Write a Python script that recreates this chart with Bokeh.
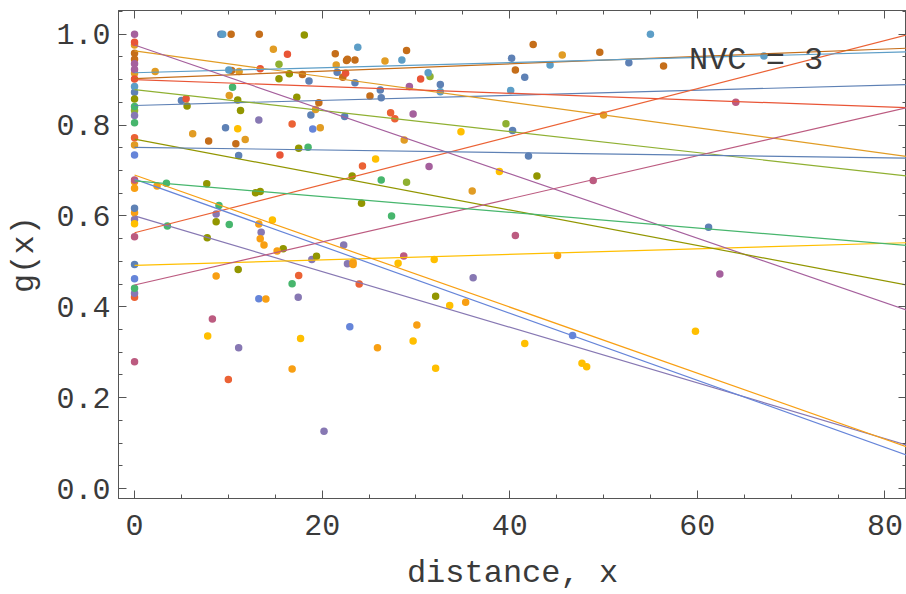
from bokeh.plotting import figure
from bokeh.models import (Range1d, LinearAxis, SingleIntervalTicker, PrintfTickFormatter, Label,
                          CustomJSTickFormatter)
from bokeh.embed import file_html
from bokeh.resources import INLINE

# ---------------- data ----------------
series_names = ["blue1", "orange", "yellowgreen", "redorange", "purple", "brown", "lightblue",
                "yellow", "purplepink", "olive", "red", "blue12", "orange13", "pink", "green", "blue2"]
series_colors = ["#5E81B5", "#E19C24", "#8FB032", "#EB6235", "#8778B3", "#C56E1A", "#5D9EC7",
                 "#FFBF00", "#A5609D", "#929600", "#E95536", "#6685D9", "#F89F13", "#BC5B80",
                 "#47B66D", "#5E81B5"]

blue1_x = [0, 9.2, 21.6, 18.6, 23.5, 26.2, 26.3, 32.6, 40.2, 41.6, 52.7, 5.0, 18.8, 22.4]
blue1_y = [0.872, 1.0, 0.916, 0.897, 0.893, 0.877, 0.860, 0.889, 0.947, 0.905, 0.937, 0.854, 0.822, 0.819]
orange_x = [0, 0, 0, 14.8, 2.2, 11.15, 10.1, 6.2, 11.8, 21.5, 26.7, 19.3, 19.8, 28.75, 36.0, 45.6, 50.0]
orange_y = [0.976, 0.914, 0.756, 0.967, 0.918, 0.918, 0.865, 0.781, 0.768, 0.932, 0.941, 0.834, 0.794, 0.767, 0.655, 0.954, 0.822]
yellowgreen_x = [0, 15.4, 31.5, 29.0, 39.6]
yellowgreen_y = [0.832, 0.934, 0.907, 0.674, 0.803]
redorange_x = [0, 0, 10.0, 17.5, 23.95, 24.3, 27.3, 27.75, 16.8]
redorange_y = [0.772, 0.421, 0.240, 0.469, 0.450, 0.710, 0.827, 0.814, 0.802]
purple_x = [0, 0, 0, 13.25, 8.7, 13.5, 11.1, 17.45, 18.9, 22.3, 22.7, 36.1, 20.2]
purple_y = [0.821, 0.592, 0.430, 0.811, 0.604, 0.564, 0.310, 0.421, 0.504, 0.536, 0.495, 0.464, 0.126]
brown_x = [0, 0, 10.3, 13.3, 10.35, 7.9, 10.8, 21.4, 22.6, 22.7, 23.5, 29.0, 22.2, 17.9, 25.1, 19.65, 40.6, 42.5, 49.6, 56.4]
brown_y = [0.958, 0.945, 1.0, 1.0, 0.920, 0.765, 0.759, 0.957, 0.942, 0.945, 0.943, 0.964, 0.905, 0.911, 0.864, 0.849, 0.921, 0.977, 0.960, 0.930]
lightblue_x = [0, 9.4, 10.05, 23.8, 28.5, 31.3, 32.6, 40.1, 44.3, 55.0, 67.1]
lightblue_y = [0.885, 1.0, 0.921, 0.971, 0.943, 0.915, 0.873, 0.876, 0.932, 1.0, 0.952]
yellow_x = [0, 7.8, 11.0, 14.7, 17.7, 34.8, 25.7, 38.9, 28.1, 31.95, 33.6, 29.7, 32.1, 41.6, 47.7, 48.2, 59.8]
yellow_y = [0.583, 0.336, 0.792, 0.591, 0.330, 0.785, 0.725, 0.698, 0.496, 0.504, 0.403, 0.325, 0.265, 0.319, 0.276, 0.268, 0.346]
purplepink_x = [0, 0, 0, 29.3, 29.7, 31.4, 62.4]
purplepink_y = [1.0, 0.935, 0.922, 0.885, 0.824, 0.709, 0.472]
olive_x = [0, 5.6, 15.4, 16.5, 17.3, 11.0, 11.3, 7.7, 12.9, 13.4, 17.5, 18.1, 23.2, 42.9, 8.7, 7.75, 11.05, 15.85, 19.4, 24.2, 32.1]
olive_y = [0.857, 0.842, 0.902, 0.913, 0.861, 0.855, 0.832, 0.671, 0.651, 0.654, 0.749, 0.998, 0.688, 0.688, 0.587, 0.552, 0.482, 0.528, 0.511, 0.628, 0.423]
red_x = [0, 0, 5.5, 13.4, 16.3, 22.5, 30.5, 15.5]
red_y = [0.982, 0.901, 0.858, 0.924, 0.956, 0.914, 0.901, 0.734]
blue12_x = [0, 0, 13.25, 19.0, 22.95, 46.7]
blue12_y = [0.734, 0.462, 0.418, 0.791, 0.356, 0.337]
orange13_x = [0, 0, 0, 2.4, 8.7, 13.25, 13.4, 13.8, 15.2, 14.0, 16.8, 23.3, 23.3, 30.1, 25.9, 35.3, 45.1]
orange13_y = [0.675, 0.661, 0.607, 0.666, 0.468, 0.582, 0.550, 0.536, 0.523, 0.417, 0.263, 0.498, 0.493, 0.360, 0.310, 0.410, 0.513]
pink_x = [0, 0, 0, 8.3, 28.7, 40.6, 48.9, 64.1]
pink_y = [0.679, 0.554, 0.279, 0.373, 0.512, 0.557, 0.678, 0.850]
green_x = [0, 0, 0, 10.45, 3.4, 3.5, 9.0, 10.1, 16.8, 18.5, 26.3, 27.4]
green_y = [0.841, 0.805, 0.441, 0.883, 0.672, 0.578, 0.623, 0.581, 0.451, 0.751, 0.679, 0.600]
blue2_x = [0, 0, 9.7, 11.1, 40.3, 42.0, 61.2]
blue2_y = [0.617, 0.493, 0.794, 0.733, 0.788, 0.732, 0.575]

# linear fits (intercept, slope) per series
fit_intercepts = [0.843, 0.963, 0.878, 0.563, 0.600, 0.902, 0.915, 0.491, 0.976, 0.769,
                  0.900, 0.681, 0.690, 0.448, 0.677, 0.751]
fit_slopes = [0.000559, -0.002819, -0.002309, 0.005286, -0.006124, 0.000814, 0.000559, 0.000608,
              -0.007084, -0.003900, -0.000753, -0.007375, -0.007266, 0.004739, -0.001725, -0.000292]

series_x = [blue1_x, orange_x, yellowgreen_x, redorange_x, purple_x, brown_x, lightblue_x, yellow_x,
            purplepink_x, olive_x, red_x, blue12_x, orange13_x, pink_x, green_x, blue2_x]
series_y = [blue1_y, orange_y, yellowgreen_y, redorange_y, purple_y, brown_y, lightblue_y, yellow_y,
            purplepink_y, olive_y, red_y, blue12_y, orange13_y, pink_y, green_y, blue2_y]

x_ticks_major = 20
y_ticks_major = 0.2
annotation_text = "NVC = 3"
x_label = "distance, x"
y_label = "g(x)"

# ---------------- figure ----------------
X_START, X_END = -1.71, 82.3
Y_START, Y_END = -0.0218, 1.052
FONT = "Liberation Mono"
TXT = "#3a3a3a"
FRAME = "#555555"

p = figure(width=906, height=594, x_range=Range1d(X_START, X_END), y_range=Range1d(Y_START, Y_END),
           output_backend="svg", toolbar_location=None, x_axis_type=None, y_axis_type=None,
           min_border_left=118, min_border_right=0, min_border_top=10, min_border_bottom=92)
p.xgrid.visible = False
p.ygrid.visible = False
p.outline_line_color = FRAME
p.background_fill_color = "white"
p.border_fill_color = "white"


def make_axis(interval, labelled, fmt=None):
    ax = LinearAxis(ticker=SingleIntervalTicker(interval=interval, num_minor_ticks=4))
    ax.axis_line_color = FRAME
    ax.major_tick_line_color = FRAME
    ax.minor_tick_line_color = FRAME
    ax.major_tick_in = 8
    ax.major_tick_out = 0
    ax.minor_tick_in = 4
    ax.minor_tick_out = 0
    if labelled:
        ax.major_label_text_font = FONT
        ax.major_label_text_font_size = "30px"
        ax.major_label_text_color = TXT
        ax.axis_label_text_font = FONT
        ax.axis_label_text_font_size = "32px"
        ax.axis_label_text_font_style = "normal"
        ax.axis_label_text_color = TXT
        if fmt:
            ax.formatter = PrintfTickFormatter(format=fmt)
    else:
        ax.formatter = CustomJSTickFormatter(code="return '';")
        ax.major_label_standoff = 0
    return ax


bx = make_axis(x_ticks_major, True)
bx.axis_label = x_label
bx.major_label_standoff = 16
bx.axis_label_standoff = 17
p.add_layout(bx, "below")

ly = make_axis(y_ticks_major, True, "%.1f")
ly.axis_label = y_label
ly.major_label_standoff = 8
ly.axis_label_standoff = 10
p.add_layout(ly, "left")

p.add_layout(make_axis(x_ticks_major, False), "above")
p.add_layout(make_axis(y_ticks_major, False), "right")

# points
for xs, ys, c in zip(series_x, series_y, series_colors):
    p.scatter(xs, ys, size=7.5, color=c, line_color=None)

# fit lines
for b, m, c in zip(fit_intercepts, fit_slopes, series_colors):
    p.line([0, X_END], [b, b + m * X_END], line_color=c, line_width=1.2)

p.add_layout(Label(x=59.1, y=0.943, text=annotation_text, text_font=FONT, text_font_size="32px",
                   text_color=TXT, text_baseline="middle", text_align="left"))

open("out.html", "w").write(file_html(p, INLINE))
